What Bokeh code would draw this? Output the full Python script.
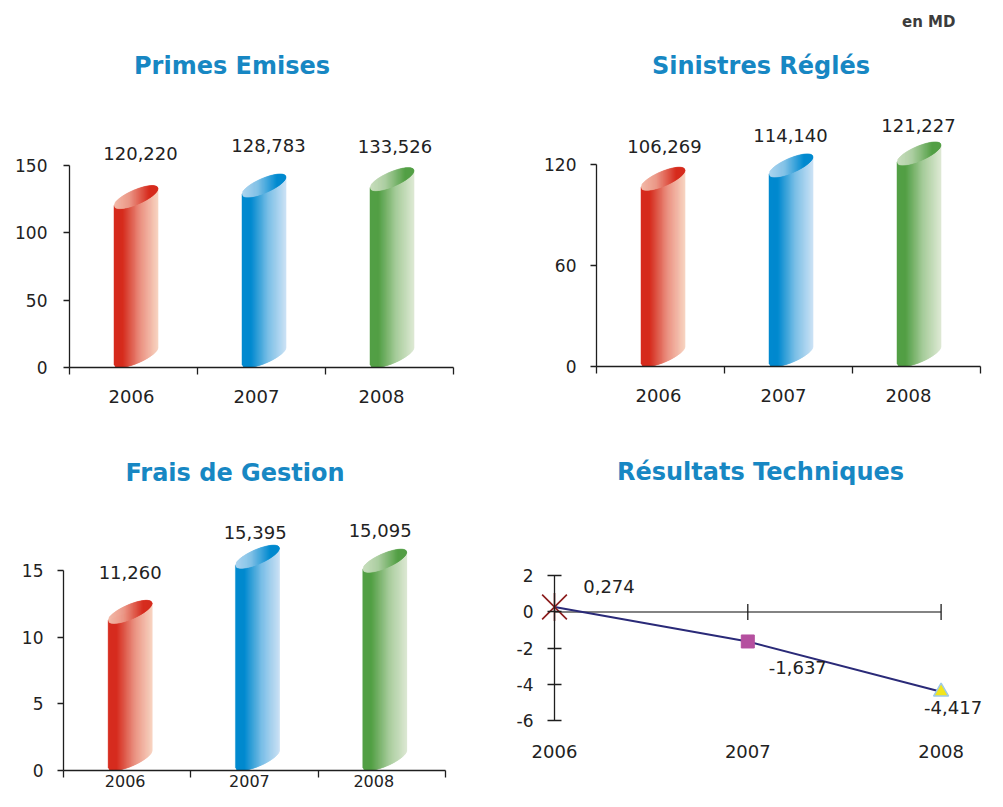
import numpy as np
from bokeh.plotting import figure
from bokeh.models import LinearAxis, FixedTicker, Range1d
from bokeh.layouts import column, row
from bokeh.core.properties import value
from bokeh.embed import file_html
from bokeh.resources import INLINE

# ---------------- data ----------------
years = ["2006", "2007", "2008"]
primes_emises = [120.220, 128.783, 133.526]
sinistres_regles = [106.269, 114.140, 121.227]
frais_gestion = [11.260, 15.395, 15.095]
resultats_techniques = [0.274, -1.637, -4.417]
ticks_primes = [0, 50, 100, 150]
ticks_sinistres = [0, 60, 120]
ticks_frais = [0, 5, 10, 15]
ticks_resultats = [-6, -4, -2, 0, 2]
titles = ["Primes Emises", "Sinistres Réglés", "Frais de Gestion", "Résultats Techniques"]
unit_note = "en MD"

# ---------------- style ----------------
FONT_NAME = "DejaVu Sans"
FONT = value(FONT_NAME)
TITLE_COLOR = "#1787c3"
TEXT_COLOR = "#222222"
AXIS_COLOR = "#1e1e1e"
BAR_COLORS = [((214, 44, 30), (248, 212, 194)),
              ((0, 138, 208), (204, 226, 245)),
              ((84, 160, 70), (222, 233, 212))]


def fmt(v):
    return f"{v:.3f}".replace(".", ",")


def mix(c1, c2, t):
    return tuple(c1[k] + (c2[k] - c1[k]) * t for k in range(3))


def interp(stops, t):
    for (p0, c0), (p1, c1) in zip(stops[:-1], stops[1:]):
        if t <= p1:
            u = 0 if p1 == p0 else (t - p0) / (p1 - p0)
            c = mix(c0, c1, max(0.0, min(1.0, u)))
            return "#%02x%02x%02x" % tuple(int(round(x)) for x in c)
    c = stops[-1][1]
    return "#%02x%02x%02x" % tuple(int(round(x)) for x in c)


def make_panel(X0, Y0, W, H, ax, xs, zy, ys):
    p = figure(width=W, height=H,
               x_range=Range1d((X0 - ax) / xs, (X0 + W - ax) / xs),
               y_range=Range1d((zy - (Y0 + H)) / ys, (zy - Y0) / ys),
               output_backend="svg", toolbar_location=None,
               x_axis_location=None, y_axis_location=None, title=None,
               min_border_left=0, min_border_right=0,
               min_border_top=0, min_border_bottom=0)
    p.outline_line_color = None
    p.background_fill_color = "white"
    p.border_fill_color = "white"
    for g in p.grid:
        g.visible = False

    def page(X, Y):
        return (X - ax) / xs, (zy - Y) / ys
    return p, page


def style_axis(a, label_size="17px"):
    a.axis_line_color = AXIS_COLOR
    a.axis_line_width = 1.3
    a.major_tick_line_color = AXIS_COLOR
    a.major_tick_line_width = 1.3
    a.minor_tick_line_color = AXIS_COLOR
    a.minor_tick_line_width = 1.3
    a.major_label_text_font = FONT_NAME
    a.major_label_text_font_size = label_size
    a.major_label_text_color = TEXT_COLOR


def draw_cylinders(p, vals, xs, ys, xoff_px):
    th = np.radians(23.4)
    a, b = 23.8, 7.2
    c, s = np.cos(th), np.sin(th)
    W = np.sqrt(a * a * c * c + b * b * s * s)
    Aq = s * s / a ** 2 + c * c / b ** 2

    def arc(dx):
        Bq = 2 * dx * c * s * (1 / a ** 2 - 1 / b ** 2)
        Cq = dx * dx * (c * c / a ** 2 + s * s / b ** 2) - 1
        r = np.sqrt(max(Bq * Bq - 4 * Aq * Cq, 0.0))
        return (-Bq - r) / (2 * Aq), (-Bq + r) / (2 * Aq), -Bq / (2 * Aq)

    left_dy = arc(-W)[2]
    n = 44
    edges = np.linspace(-W, W, n + 1)
    bx, by, bc, fx, fy, fc = [], [], [], [], [], []
    for i, (v, (sat, light)) in enumerate(zip(vals, BAR_COLORS)):
        body_stops = [(0, sat), (0.2, sat), (0.6, mix(sat, light, 0.6)), (1, light)]
        face_stops = [(0, mix(sat, light, 0.85)), (0.35, mix(sat, light, 0.65)),
                      (0.8, sat), (1, sat)]
        cx = i + 0.5 + xoff_px / xs
        top_c = v - left_dy / ys
        bot_c = (3 - left_dy) / ys
        for k in range(n):
            d0 = edges[k]
            d1 = min(edges[k + 1] + 0.7, W)
            t = ((edges[k] + edges[k + 1]) / 2 + W) / (2 * W)
            lo0, hi0, m0 = arc(d0)
            lo1, hi1, m1 = arc(d1)
            X = [cx + d0 / xs, cx + d1 / xs, cx + d1 / xs, cx + d0 / xs]
            bx.append(X)
            by.append([bot_c + lo0 / ys, bot_c + lo1 / ys, top_c + m1 / ys, top_c + m0 / ys])
            bc.append(interp(body_stops, t))
            fx.append(X)
            fy.append([top_c + lo0 / ys, top_c + lo1 / ys, top_c + hi1 / ys, top_c + hi0 / ys])
            fc.append(interp(face_stops, t))
    p.patches(xs=bx, ys=by, fill_color=bc, line_color=bc, line_width=0.4)
    p.patches(xs=fx, ys=fy, fill_color=fc, line_color=fc, line_width=0.4)


def bar_panel(X0, Y0, W, H, ax, xs, zy, ys, vals, yticks, title, title_pos,
              y_standoff, lab_off, bar_dx, x_standoff=15, x_size="18px"):
    p, page = make_panel(X0, Y0, W, H, ax, xs, zy, ys)
    n = len(years)
    # year labels sit slightly left of the category centres in the reference
    centers = [i + 0.5 - (2 + 3 * i) / xs for i in range(n)]
    bounds_x = list(range(n + 1))

    draw_cylinders(p, vals, xs, ys, bar_dx)

    yaxis = LinearAxis(fixed_location=0, ticker=FixedTicker(ticks=yticks),
                       bounds=(yticks[0], yticks[-1]))
    style_axis(yaxis)
    yaxis.major_tick_out = 6
    yaxis.major_tick_in = 0
    yaxis.minor_tick_out = 0
    yaxis.minor_tick_in = 0
    yaxis.major_label_standoff = y_standoff
    p.add_layout(yaxis, "left")

    xaxis = LinearAxis(fixed_location=0,
                       ticker=FixedTicker(ticks=centers, minor_ticks=bounds_x),
                       bounds=(0, n),
                       major_label_overrides={c_: y_ for c_, y_ in zip(centers, years)})
    style_axis(xaxis, x_size)
    xaxis.major_tick_out = 0
    xaxis.major_tick_in = 0
    xaxis.minor_tick_out = 7
    xaxis.minor_tick_in = 0
    xaxis.major_label_standoff = x_standoff
    p.add_layout(xaxis, "below")

    p.text(x=[i + 0.5 + dx / xs for i, (dx, dy) in enumerate(lab_off)],
           y=[v + dy / ys for v, (dx, dy) in zip(vals, lab_off)],
           text=[fmt(v) for v in vals], text_font=FONT, text_font_size="18px",
           text_align="center", text_baseline="middle", text_color=TEXT_COLOR)

    tx, ty = page(*title_pos)
    p.text(x=[tx], y=[ty], text=[title], text_font=FONT, text_font_size="24px",
           text_font_style="bold", text_align="center", text_baseline="middle",
           text_color=TITLE_COLOR)
    return p, page


# ---------------- panels (page pixel geometry) ----------------
pA, _ = bar_panel(0, 0, 490, 410, 69, 128.0, 367, 202 / 150, primes_emises,
                  ticks_primes, titles[0], (231.5, 65.5), 16,
                  [(7, 52), (7, 49), (5.5, 41)], 2.5)

pB, pageB = bar_panel(490, 0, 497, 410, 596, 128.0, 366, 202.4 / 120, sinistres_regles,
                      ticks_sinistres, titles[1], (760.5, 65.5), 14,
                      [(4, 41), (2, 38), (2, 37)], 2.5)
nx, ny = pageB(955, 21.5)
pB.text(x=[nx], y=[ny], text=[unit_note], text_font=FONT, text_font_size="15px",
        text_font_style="bold", text_align="right", text_baseline="middle",
        text_color="#3c3c3c")

pC, _ = bar_panel(0, 410, 490, 381, 63, 127.3, 770, 200 / 15, frais_gestion,
                  ticks_frais, titles[2], (234.5, 472), 14,
                  [(3, 48), (0.7, 33), (-1.6, 39)], 3,
                  x_standoff=-3, x_size="16px")

# line panel
xsD, ysD = 193.3, 18.07
pD, pageD = make_panel(490, 410, 497, 381, 554, xsD, 611.4, ysD)
idx = list(range(len(years)))

yaxD = LinearAxis(fixed_location=0, ticker=FixedTicker(ticks=ticks_resultats),
                  bounds=(ticks_resultats[0], ticks_resultats[-1]),
                  major_label_overrides={t: str(t) for t in ticks_resultats})
style_axis(yaxD)
yaxD.major_tick_in = 7
yaxD.major_tick_out = 7
yaxD.minor_tick_in = 0
yaxD.minor_tick_out = 0
yaxD.major_label_standoff = 14
pD.add_layout(yaxD, "left")

labD = LinearAxis(fixed_location=ticks_resultats[0], ticker=FixedTicker(ticks=idx),
                  major_label_overrides={i: y_ for i, y_ in zip(idx, years)})
style_axis(labD, "18px")
labD.axis_line_color = None
labD.major_tick_line_color = None
labD.minor_tick_line_color = None
labD.major_tick_out = 0
labD.major_tick_in = 0
labD.major_label_standoff = 25
pD.add_layout(labD, "below")

# zero line with tick marks at 2007 and 2008
pD.segment(x0=[idx[0]], y0=[0], x1=[idx[-1]], y1=[0], line_color="#5a5a5a", line_width=1.5)
pD.scatter(x=idx[1:], y=[0] * (len(idx) - 1), marker="dash", angle=np.pi / 2, size=16,
           line_color=AXIS_COLOR, line_width=1.3)

pD.line(x=idx, y=resultats_techniques, line_color="#2a2a78", line_width=2)
pD.scatter(x=idx[:1], y=resultats_techniques[:1], marker="x", size=35,
           line_color="#8b1c1c", line_width=1.6)
pD.scatter(x=idx[:1], y=resultats_techniques[:1], marker="dash", angle=np.pi / 2,
           size=28, line_color="#8b1c1c", line_width=1.6)
pD.scatter(x=idx[1:2], y=resultats_techniques[1:2], marker="square", size=13,
           fill_color="#b5509f", line_color="#b5509f")
pD.scatter(x=idx[2:3], y=resultats_techniques[2:3], marker="triangle", size=15,
           fill_color="#f2e51c", line_color="#9ecae8", line_width=1.5)

label_offsets = [(54.5, 20.6), (50, -25.8), (12, -16)]
pD.text(x=[i + dx / xsD for i, (dx, dy) in zip(idx, label_offsets)],
        y=[v + dy / ysD for v, (dx, dy) in zip(resultats_techniques, label_offsets)],
        text=[fmt(v) for v in resultats_techniques], text_font=FONT,
        text_font_size="18px", text_align="center", text_baseline="middle",
        text_color=TEXT_COLOR)
tx, ty = pageD(760, 471.5)
pD.text(x=[tx], y=[ty], text=[titles[3]], text_font=FONT, text_font_size="24px",
        text_font_style="bold", text_align="center", text_baseline="middle",
        text_color=TITLE_COLOR)

layout = column(row(pA, pB), row(pC, pD))
open("out.html", "w").write(file_html(layout, INLINE))
